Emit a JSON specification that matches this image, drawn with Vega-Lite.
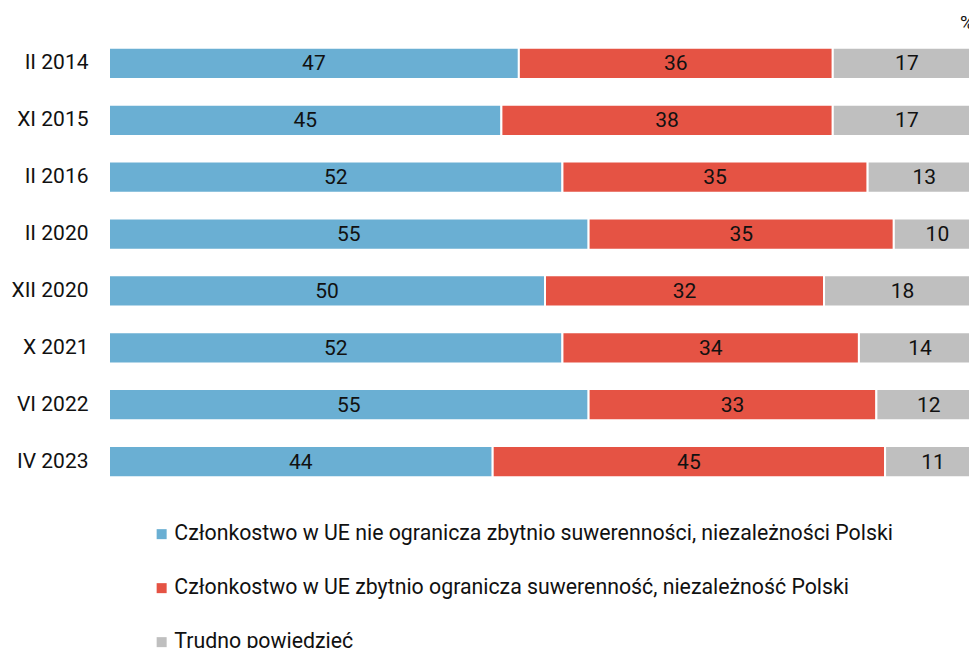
{
  "$schema": "https://vega.github.io/schema/vega-lite/v6.json",
  "width": 872,
  "height": 455,
  "autosize": {"type": "none"},
  "padding": {"left": 109, "top": 35, "right": 0, "bottom": 158},
  "background": "white",
  "config": {"font": "Roboto", "view": {"stroke": null}},
  "title": {"text": "%", "anchor": "end", "dx": -8, "offset": 2, "fontSize": 19, "fontWeight": "normal", "color": "#111111", "font": "Roboto"},
  "data": {"values": [
    {"okres": "II 2014", "kat": "Członkostwo w UE nie ogranicza zbytnio suwerenności, niezależności Polski", "o": 1, "v": 47},
    {"okres": "II 2014", "kat": "Członkostwo w UE zbytnio ogranicza suwerenność, niezależność Polski", "o": 2, "v": 36},
    {"okres": "II 2014", "kat": "Trudno powiedzieć", "o": 3, "v": 17},
    {"okres": "XI 2015", "kat": "Członkostwo w UE nie ogranicza zbytnio suwerenności, niezależności Polski", "o": 1, "v": 45},
    {"okres": "XI 2015", "kat": "Członkostwo w UE zbytnio ogranicza suwerenność, niezależność Polski", "o": 2, "v": 38},
    {"okres": "XI 2015", "kat": "Trudno powiedzieć", "o": 3, "v": 17},
    {"okres": "II 2016", "kat": "Członkostwo w UE nie ogranicza zbytnio suwerenności, niezależności Polski", "o": 1, "v": 52},
    {"okres": "II 2016", "kat": "Członkostwo w UE zbytnio ogranicza suwerenność, niezależność Polski", "o": 2, "v": 35},
    {"okres": "II 2016", "kat": "Trudno powiedzieć", "o": 3, "v": 13},
    {"okres": "II 2020", "kat": "Członkostwo w UE nie ogranicza zbytnio suwerenności, niezależności Polski", "o": 1, "v": 55},
    {"okres": "II 2020", "kat": "Członkostwo w UE zbytnio ogranicza suwerenność, niezależność Polski", "o": 2, "v": 35},
    {"okres": "II 2020", "kat": "Trudno powiedzieć", "o": 3, "v": 10},
    {"okres": "XII 2020", "kat": "Członkostwo w UE nie ogranicza zbytnio suwerenności, niezależności Polski", "o": 1, "v": 50},
    {"okres": "XII 2020", "kat": "Członkostwo w UE zbytnio ogranicza suwerenność, niezależność Polski", "o": 2, "v": 32},
    {"okres": "XII 2020", "kat": "Trudno powiedzieć", "o": 3, "v": 18},
    {"okres": "X 2021", "kat": "Członkostwo w UE nie ogranicza zbytnio suwerenności, niezależności Polski", "o": 1, "v": 52},
    {"okres": "X 2021", "kat": "Członkostwo w UE zbytnio ogranicza suwerenność, niezależność Polski", "o": 2, "v": 34},
    {"okres": "X 2021", "kat": "Trudno powiedzieć", "o": 3, "v": 14},
    {"okres": "VI 2022", "kat": "Członkostwo w UE nie ogranicza zbytnio suwerenności, niezależności Polski", "o": 1, "v": 55},
    {"okres": "VI 2022", "kat": "Członkostwo w UE zbytnio ogranicza suwerenność, niezależność Polski", "o": 2, "v": 33},
    {"okres": "VI 2022", "kat": "Trudno powiedzieć", "o": 3, "v": 12},
    {"okres": "IV 2023", "kat": "Członkostwo w UE nie ogranicza zbytnio suwerenności, niezależności Polski", "o": 1, "v": 44},
    {"okres": "IV 2023", "kat": "Członkostwo w UE zbytnio ogranicza suwerenność, niezależność Polski", "o": 2, "v": 45},
    {"okres": "IV 2023", "kat": "Trudno powiedzieć", "o": 3, "v": 11}
  ]},
  "encoding": {
    "y": {"field": "okres", "type": "nominal", "sort": null,
      "scale": {"paddingInner": 0.45, "paddingOuter": 0.225},
      "axis": {"title": null, "domain": false, "ticks": false, "labelPadding": 21, "labelFontSize": 21, "labelColor": "#111111", "labelFont": "Roboto"}},
    "x": {"field": "v", "type": "quantitative", "stack": "zero",
      "scale": {"domain": [0, 100], "nice": false}, "axis": null},
    "order": {"field": "o", "type": "quantitative"}
  },
  "layer": [
    {"mark": {"type": "bar", "stroke": "white", "strokeWidth": 2},
     "encoding": {
       "color": {"field": "kat", "type": "nominal", "sort": null,
         "scale": {"domain": ["Członkostwo w UE nie ogranicza zbytnio suwerenności, niezależności Polski", "Członkostwo w UE zbytnio ogranicza suwerenność, niezależność Polski", "Trudno powiedzieć"],
                   "range": ["#6aafd3", "#e55344", "#bfbfbf"]},
         "legend": {"title": null, "orient": "none", "legendX": 42, "legendY": 488.5, "direction": "vertical",
           "symbolType": "square", "symbolSize": 100, "symbolStrokeWidth": 0, "labelFontSize": 21.3, "labelFont": "Roboto", "labelColor": "#111111",
           "rowPadding": 32, "labelLimit": 900, "labelOffset": 2}}
     }},
    {"mark": {"type": "text", "fontSize": 21, "color": "#111111", "font": "Roboto", "dy": 1},
     "encoding": {
       "x": {"field": "v", "type": "quantitative", "stack": "zero", "bandPosition": 0.5},
       "text": {"field": "v", "type": "quantitative"}
     }}
  ]
}
